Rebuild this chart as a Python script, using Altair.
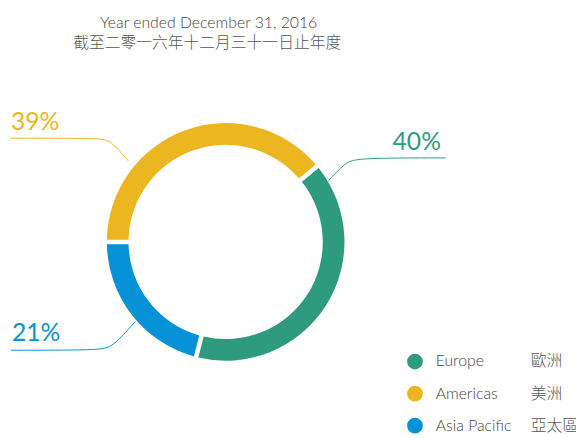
import math
import altair as alt
import pandas as pd

# ---- data ----
regions = ["Europe", "Americas", "Asia Pacific"]
regions_zh = ["歐洲", "美洲", "亞太區"]
shares = [40, 39, 21]
labels = ["40%", "39%", "21%"]
ring_order = [0, 2, 1]  # clockwise: Europe, Asia Pacific, Americas

title_en = "Year ended December 31, 2016"
title_zh = "截至二零一六年十二月三十一日止年度"

# ---- styling / layout ----
seg_colors = ["#2E9A7E", "#EBB61F", "#0791D6"]
dot_colors = ["#009A77", "#EDBB1C", "#52AEE2"]
W, H = 576, 430
CX, CY = 220.7, 234.2
R_OUT, R_IN = 120.5, 98.5
START = math.radians(50.4)

# leader-line layout (pixel space)
leaders = {
    "Europe": [(325, 172), (342, 154), (353, 149), (444, 149)],
    "Americas": [(3, 129), (92, 129), (104, 131), (122, 152)],
    "Asia Pacific": [(3, 344), (92, 344), (106, 341), (129, 315)],
}
label_pos = {
    "Europe": (439, 141, "right"),
    "Americas": (3, 121, "left"),
    "Asia Pacific": (4, 335, "left"),
}
LEG_DOT_X, LEG_TXT_X, LEG_ZH_X = 412.7, 433.7, 530
LEG_Y0, LEG_STEP = 355.5, 32.5

df = pd.DataFrame({"region": regions, "zh": regions_zh, "share": shares,
                   "label": labels, "ord": ring_order})
df["lx"] = [label_pos[r][0] for r in regions]
df["ly"] = [label_pos[r][1] for r in regions]
df["align"] = [label_pos[r][2] for r in regions]
df["legy"] = [LEG_Y0 + i * LEG_STEP for i in range(len(regions))]

rows = []
for r in regions:
    for k, (x, y) in enumerate(leaders[r]):
        rows.append({"region": r, "k": k, "px": x, "py": y})
ldf = pd.DataFrame(rows)

xs = alt.Scale(domain=[0, W], range=[0, W], nice=False, zero=False)
ys = alt.Scale(domain=[0, H], range=[0, H], nice=False, zero=False)
seg_scale = alt.Scale(domain=regions, range=seg_colors)
dot_scale = alt.Scale(domain=regions, range=dot_colors)

base = alt.Chart(df)

ring = base.mark_arc(radius=R_OUT, radius2=R_IN, padAngle=0.03).encode(
    theta=alt.Theta("share:Q", stack=True, scale=alt.Scale(range=[START, START + 2 * math.pi])),
    color=alt.Color("region:N", scale=seg_scale, legend=None),
    order=alt.Order("ord:Q"),
    x=alt.value(CX),
    y=alt.value(CY),
)

lines = alt.Chart(ldf).mark_line(interpolate="basis", strokeWidth=1).encode(
    x=alt.X("px:Q", scale=xs, axis=None),
    y=alt.Y("py:Q", scale=ys, axis=None),
    detail="region:N",
    order="k:Q",
    color=alt.Color("region:N", scale=seg_scale, legend=None),
)

pct_layers = []
for align in ["left", "right"]:
    pct_layers.append(
        base.transform_filter(alt.datum.align == align).mark_text(
            font="Lato", fontSize=25, align=align, baseline="alphabetic"
        ).encode(
            x=alt.X("lx:Q", scale=xs, axis=None),
            y=alt.Y("ly:Q", scale=ys, axis=None),
            text="label:N",
            color=alt.Color("region:N", scale=seg_scale, legend=None),
        )
    )

dots = base.mark_point(filled=True, shape="circle", size=254, opacity=1).encode(
    x=alt.value(LEG_DOT_X),
    y=alt.Y("legy:Q", scale=ys, axis=None),
    color=alt.Color("region:N", scale=dot_scale, legend=None),
)
leg_en = base.mark_text(font="Lato", fontSize=16, fontWeight=300, align="left", baseline="middle", color="#444444").encode(
    x=alt.value(LEG_TXT_X),
    y=alt.Y("legy:Q", scale=ys, axis=None),
    text="region:N",
)
leg_zh = base.mark_text(font="Noto Sans CJK TC", fontSize=16, fontWeight=300, align="left", baseline="middle", color="#555555").encode(
    x=alt.value(LEG_ZH_X),
    y=alt.Y("legy:Q", scale=ys, axis=None),
    text="zh:N",
)

tdf = pd.DataFrame({"t": [title_en]})
tzh = pd.DataFrame({"t": [title_zh]})
t1 = alt.Chart(tdf).mark_text(font="Lato", fontSize=16, fontWeight=300, align="center", baseline="alphabetic", color="#444444").encode(
    x=alt.value(203.5), y=alt.value(17), text="t:N")
t2 = alt.Chart(tzh).mark_text(font="Noto Sans CJK TC", fontSize=16, fontWeight=300, align="center", baseline="middle", color="#555555").encode(
    x=alt.value(202), y=alt.value(32.5), text="t:N")

chart = alt.layer(ring, lines, *pct_layers, dots, leg_en, leg_zh, t1, t2).properties(
    width=W, height=H, padding=0,
    autosize=alt.AutoSizeParams(type="none"),
).configure_view(stroke=None)

chart.save("out.html", embed_options={"renderer": "svg", "actions": False})
